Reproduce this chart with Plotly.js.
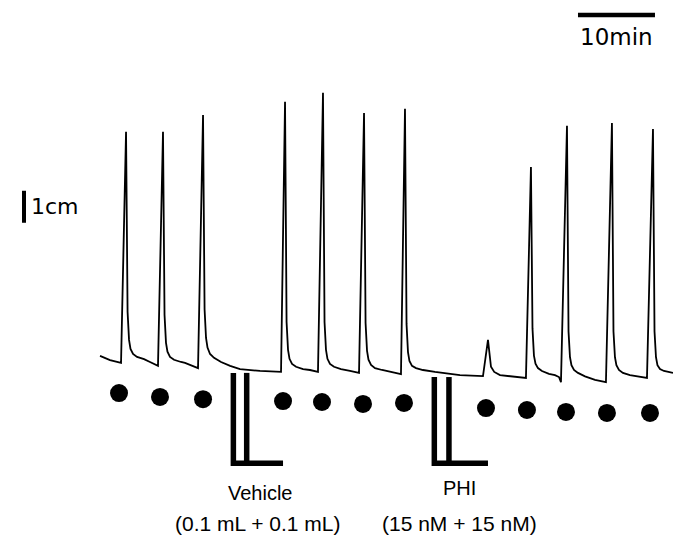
<!DOCTYPE html>
<html>
<head>
<meta charset="utf-8">
<script src="https://cdn.plot.ly/plotly-3.0.1.min.js"></script>
<style>html,body{margin:0;padding:0;background:#fff;}#chart{width:673px;height:539px;}</style>
</head>
<body>
<div id="chart"></div>
<script>
// Isometric tension trace: time (min) and tension (cm above baseline)
var traceTime = [0, 1.30, 2.73,
  3.38, 3.58, 3.77, 3.96, 4.29, 4.81, 5.72, 6.49, 7.53,
  8.18, 8.38, 8.57, 8.76, 9.09, 9.61, 10.52, 11.04, 12.73,
  13.38, 13.58, 13.77, 13.96, 14.29, 14.81, 15.72, 16.90, 18.18, 20.78, 23.51,
  24.03, 24.23, 24.42, 24.61, 24.94, 25.46, 26.37, 27.27, 28.31,
  28.96, 29.16, 29.35, 29.54, 29.87, 30.39, 31.30, 32.47, 33.64,
  34.29, 34.49, 34.68, 34.87, 35.20, 35.72, 36.63, 37.66, 39.09,
  39.61, 39.81, 40.00, 40.19, 40.52, 41.04, 41.95, 43.51, 46.75, 49.35, 49.74,
  50.39, 50.58, 50.78, 51.20, 51.95, 55.32,
  55.97, 56.17, 56.36, 56.56, 56.88, 57.40, 58.31, 59.09, 59.61, 59.87,
  60.65, 60.85, 61.04, 61.23, 61.56, 62.08, 62.99, 64.29, 65.71,
  66.49, 66.69, 66.88, 67.07, 67.40, 67.92, 68.83, 70.00, 71.04,
  71.82, 72.02, 72.21, 72.40, 72.73, 73.25, 74.42];
var traceTension = [0.44, 0.31, 0.22,
  7.44, 1.81, 0.94, 0.66, 0.50, 0.41, 0.34, 0.25, 0.13,
  7.44, 1.72, 0.85, 0.57, 0.41, 0.32, 0.25, 0.22, 0.06,
  7.97, 1.90, 1.00, 0.70, 0.50, 0.38, 0.25, 0.13, 0.03, -0.03, -0.06,
  8.38, 1.50, 0.63, 0.35, 0.19, 0.10, 0.03, 0, -0.06,
  8.66, 1.50, 0.63, 0.35, 0.19, 0.10, 0.03, -0.03, -0.09,
  8.03, 1.47, 0.60, 0.32, 0.16, 0.06, 0, -0.06, -0.13,
  8.16, 1.44, 0.56, 0.28, 0.13, 0.06, 0, -0.06, -0.16, -0.19, -0.19,
  0.94, 0.40, 0.10, -0.06, -0.16, -0.25,
  6.34, 1.30, 0.45, 0.20, 0.06, -0.03, -0.12, -0.16, -0.22, -0.38,
  7.63, 1.20, 0.40, 0.15, 0, -0.09, -0.20, -0.31, -0.38,
  7.72, 1.20, 0.40, 0.15, 0, -0.09, -0.16, -0.22, -0.25,
  7.53, 1.20, 0.40, 0.15, 0.03, -0.03, -0.09];

// Contraction markers (dots)
var dotTime = [2.47, 7.79, 13.38, 23.77, 28.83, 34.16, 39.48, 50.13, 55.45, 60.52, 65.84, 71.43];
var dotLevel = [-0.72, -0.84, -0.91, -0.97, -1.0, -1.06, -1.03, -1.19, -1.25, -1.31, -1.34, -1.34];

// Drug applications (two additions each)
var doseNames = ["Vehicle", "PHI"];
var doseAmounts = ["(0.1 mL + 0.1 mL)", "(15 nM + 15 nM)"];
var doseFirst = [17.32, 43.42];
var doseSecond = [19.05, 45.32];
var doseTop = [-0.09, -0.22];
var doseBarEnd = [23.77, 50.39];
var doseBottom = -2.91;

// Scale bars
var timeBarStart = 62.08, timeBarMin = 10, timeBarLevel = 11.09;
var tensionBarTime = -9.87, tensionBarBase = 4.6, tensionBarCm = 1;

var black = '#000';
var data = [];
data.push({x: traceTime, y: traceTension, mode: 'lines', line: {color: black, width: 1.8, shape: 'linear'}, hoverinfo: 'skip'});
data.push({x: dotTime, y: dotLevel, mode: 'markers', marker: {color: black, size: 18, line: {width: 0}}, hoverinfo: 'skip'});
for (var i = 0; i < doseNames.length; i++) {
  data.push({x: [doseFirst[i], doseFirst[i], doseBarEnd[i]], y: [doseTop[i], doseBottom, doseBottom],
    mode: 'lines', line: {color: black, width: 5.5}, hoverinfo: 'skip'});
  data.push({x: [doseSecond[i], doseSecond[i]], y: [doseTop[i], doseBottom],
    mode: 'lines', line: {color: black, width: 5.5}, hoverinfo: 'skip'});
}
data.push({x: [timeBarStart, timeBarStart + timeBarMin], y: [timeBarLevel, timeBarLevel], mode: 'lines', line: {color: black, width: 4.5}, hoverinfo: 'skip'});
data.push({x: [tensionBarTime, tensionBarTime], y: [tensionBarBase, tensionBarBase + tensionBarCm], mode: 'lines', line: {color: black, width: 4}, hoverinfo: 'skip'});

var ann = [];
var labelX = [20.78, 46.75];
var labelY = [-3.84, -3.69];
var amountX = [20.52, 46.75];
for (var j = 0; j < doseNames.length; j++) {
  ann.push({x: labelX[j], y: labelY[j], xref: 'x', yref: 'y', text: doseNames[j], showarrow: false,
    xanchor: 'center', yanchor: 'middle', font: {family: 'Liberation Sans, Arial, sans-serif', size: 20, color: black}});
  ann.push({x: amountX[j], y: -4.81, xref: 'x', yref: 'y', text: doseAmounts[j], showarrow: false,
    xanchor: 'center', yanchor: 'middle', font: {family: 'Liberation Sans, Arial, sans-serif', size: 21, color: black}});
}
ann.push({x: timeBarStart + timeBarMin / 2, y: 10.41, xref: 'x', yref: 'y', text: timeBarMin + 'min', showarrow: false,
  xanchor: 'center', yanchor: 'middle', font: {family: 'DejaVu Sans, sans-serif', size: 23, color: black}});
ann.push({x: tensionBarTime + 0.6, y: tensionBarBase + tensionBarCm / 2, xref: 'x', yref: 'y', text: tensionBarCm + 'cm', showarrow: false,
  xanchor: 'left', yanchor: 'middle', font: {family: 'DejaVu Sans, sans-serif', size: 22, color: black}});

var layout = {
  width: 673, height: 539,
  margin: {l: 0, r: 0, t: 0, b: 0, pad: 0},
  paper_bgcolor: '#fff', plot_bgcolor: '#fff',
  showlegend: false,
  xaxis: {range: [-12.99, 74.42], visible: false, fixedrange: true},
  yaxis: {range: [-5.28, 11.56], visible: false, fixedrange: true},
  annotations: ann
};
Plotly.newPlot('chart', data, layout, {displayModeBar: false, staticPlot: true});
</script>
</body>
</html>
